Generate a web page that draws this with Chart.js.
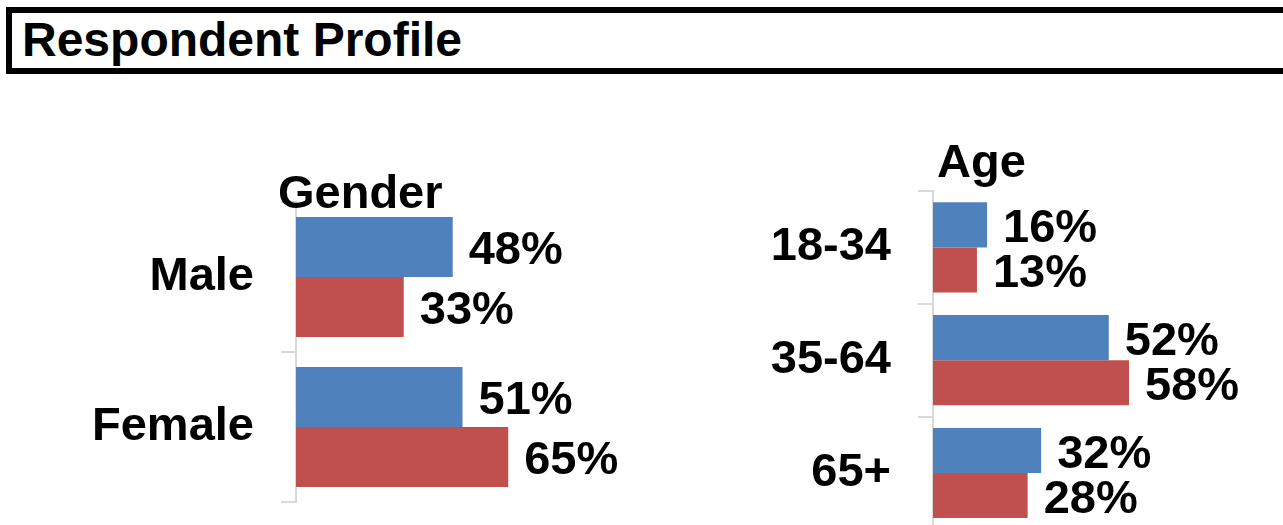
<!DOCTYPE html>
<html>
<head>
<meta charset="utf-8">
<script src="https://cdn.jsdelivr.net/npm/chart.js@4.4.1/dist/chart.umd.min.js"></script>
<style>
html,body{margin:0;padding:0;width:1283px;height:525px;overflow:hidden;background:#fff;font-family:"Liberation Sans",Arial,sans-serif;}
#hdr{position:absolute;left:6px;top:7px;width:1300px;height:55px;border:6px solid #000;box-sizing:content-box;}
#hdr span{position:absolute;left:10px;top:3px;font-weight:bold;font-size:48px;line-height:48px;color:#000;white-space:nowrap;}
.wrap{position:absolute;}
</style>
</head>
<body>
<div id="hdr"><span>Respondent Profile</span></div>
<div class="wrap" style="left:0px;top:100px;width:700px;height:425px;"><canvas id="gender" width="700" height="425"></canvas></div>
<div class="wrap" style="left:640px;top:100px;width:643px;height:440px;"><canvas id="age" width="643" height="440"></canvas></div>
<script>
// ---- data ----
const genderTitle = 'Gender';
const genderCategories = ['Male', 'Female'];
const genderSeries1 = [48, 51];
const genderSeries2 = [33, 65];

const ageTitle = 'Age';
const ageCategories = ['18-34', '35-64', '65+'];
const ageSeries1 = [16, 52, 32];
const ageSeries2 = [13, 58, 28];

const seriesNames = ['Series 1', 'Series 2'];
const valueSuffix = '%';

// ---- styling ----
const FONT = '"Liberation Sans", Arial, sans-serif';
const BLUE = '#4F81BD';
const RED = '#C0504D';
const AXIS = '#d9d9d9';
Chart.defaults.font.family = FONT;

const valueLabels = {
  id: 'valueLabels',
  afterDatasetsDraw(chart) {
    const ctx = chart.ctx;
    const size = 47;
    ctx.save();
    ctx.font = 'bold ' + size + 'px ' + FONT;
    ctx.fillStyle = '#000';
    ctx.textAlign = 'left';
    ctx.textBaseline = 'alphabetic';
    chart.data.datasets.forEach((ds, i) => {
      chart.getDatasetMeta(i).data.forEach((bar, j) => {
        ctx.fillText(ds.data[j] + valueSuffix, bar.x + 16, bar.y + size * 0.37);
      });
    });
    ctx.restore();
  }
};

const panelTitle = {
  id: 'panelTitle',
  afterDraw(chart) {
    const o = chart.options.plugins.panelTitle;
    const ctx = chart.ctx;
    ctx.save();
    ctx.font = 'bold 47px ' + FONT;
    ctx.fillStyle = '#000';
    ctx.textAlign = 'left';
    ctx.textBaseline = 'alphabetic';
    ctx.fillText(o.text, chart.chartArea.left + o.dx, chart.chartArea.top + o.dy);
    ctx.restore();
  }
};

function makeChart(id, title, cats, s1, s2, axisW, pad, tdx, tdy) {
  return new Chart(document.getElementById(id), {
    type: 'bar',
    data: {
      labels: cats,
      datasets: [
        { label: seriesNames[0], data: s1, backgroundColor: BLUE, categoryPercentage: 0.8, barPercentage: 1.0 },
        { label: seriesNames[1], data: s2, backgroundColor: RED, categoryPercentage: 0.8, barPercentage: 1.0 }
      ]
    },
    options: {
      indexAxis: 'y',
      responsive: false,
      animation: false,
      devicePixelRatio: 1,
      layout: { padding: pad },
      scales: {
        x: { display: false, min: 0, max: 100 },
        y: {
          offset: true,
          grid: { display: true, drawOnChartArea: false, drawTicks: true, tickLength: 15, color: AXIS, lineWidth: 2, offset: true },
          border: { display: true, color: AXIS, width: 2 },
          ticks: { color: '#000', font: { size: 47, weight: 'bold', family: FONT }, padding: 27 },
          afterFit(scale) { scale.width = axisW; scale.paddingTop = 0; scale.paddingBottom = 0; }
        }
      },
      plugins: {
        legend: { display: false },
        tooltip: { enabled: false },
        title: { display: false },
        panelTitle: { text: title, dx: tdx, dy: tdy }
      }
    },
    plugins: [valueLabels, panelTitle]
  });
}

makeChart('gender', genderTitle, genderCategories, genderSeries1, genderSeries2,
  296, { left: 0, right: 77.5, top: 102, bottom: 23 }, -18, 6);
makeChart('age', ageTitle, ageCategories, ageSeries1, ageSeries2,
  293, { left: 0, right: 12, top: 91, bottom: 10.6 }, 4, -13.7);
</script>
</body>
</html>
